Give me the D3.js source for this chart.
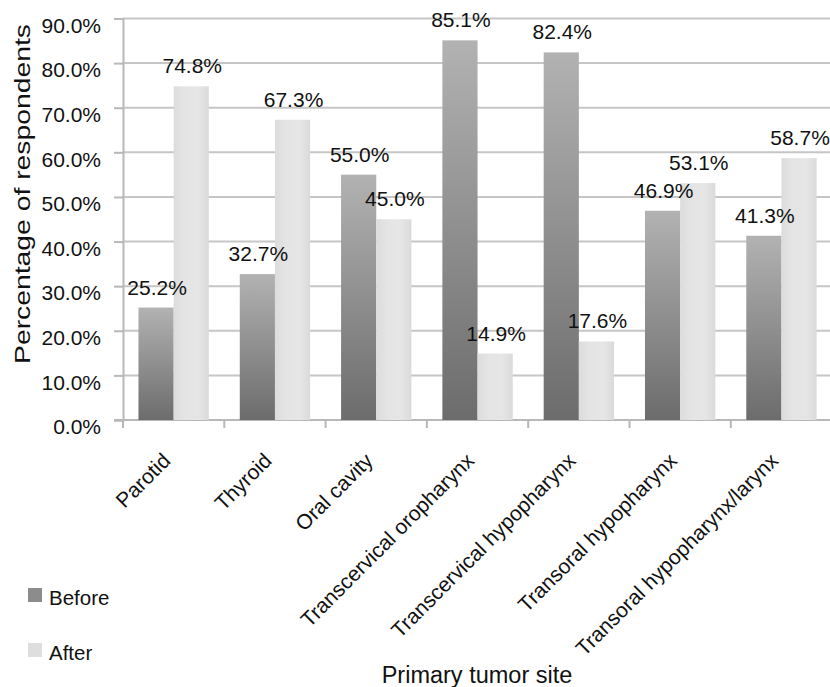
<!DOCTYPE html>
<html>
<head>
<meta charset="utf-8">
<script src="https://cdn.jsdelivr.net/npm/d3@7"></script>
<style>
  body { margin: 0; background: #fff; }
  text { font-family: Arial, "Liberation Sans", sans-serif; fill: #111; }
</style>
</head>
<body>
<script>
// chart data
var categories = ["Parotid", "Thyroid", "Oral cavity", "Transcervical oropharynx",
                  "Transcervical hypopharynx", "Transoral hypopharynx", "Transoral hypopharynx/larynx"];
var before = [25.2, 32.7, 55.0, 85.1, 82.4, 46.9, 41.3];
var after = [74.8, 67.3, 45.0, 14.9, 17.6, 53.1, 58.7];
var seriesNames = ["Before", "After"];
var yTicks = [0, 10, 20, 30, 40, 50, 60, 70, 80, 90];

var width = 830, height = 687;
var margin = {left: 123, top: 18.5, right: 0, bottom: 267};

var svg = d3.select("body").append("svg")
    .attr("width", width)
    .attr("height", height);

var defs = svg.append("defs");
var gBefore = defs.append("linearGradient").attr("id", "gBefore")
    .attr("x1", 0).attr("y1", 0).attr("x2", 0).attr("y2", 1);
gBefore.append("stop").attr("offset", "0%").attr("stop-color", "#b2b2b2");
gBefore.append("stop").attr("offset", "100%").attr("stop-color", "#6c6c6c");
var gAfter = defs.append("linearGradient").attr("id", "gAfter")
    .attr("x1", 0).attr("y1", 0).attr("x2", 1).attr("y2", 0);
gAfter.append("stop").attr("offset", "0%").attr("stop-color", "#dcdcdc");
gAfter.append("stop").attr("offset", "30%").attr("stop-color", "#e4e4e4");
gAfter.append("stop").attr("offset", "70%").attr("stop-color", "#e6e6e6");
gAfter.append("stop").attr("offset", "100%").attr("stop-color", "#dadada");

var x = d3.scaleBand()
    .domain(categories)
    .range([margin.left, margin.left + 7 * 101.3])
    .paddingInner(0)
    .paddingOuter(0);

var y = d3.scaleLinear()
    .domain([0, 90])
    .range([height - margin.bottom, margin.top]);

var inner = d3.scaleBand()
    .domain(seriesNames)
    .range([0, x.bandwidth()])
    .paddingInner(0)
    .paddingOuter(0.44);

// gridlines
svg.append("g").selectAll("line")
    .data(yTicks.slice(1))
    .enter().append("line")
    .attr("x1", margin.left)
    .attr("x2", width)
    .attr("y1", function(d){ return y(d); })
    .attr("y2", function(d){ return y(d); })
    .attr("stroke", "#c6c6c6")
    .attr("stroke-width", 2);

// y axis
var yAxis = d3.axisLeft(y)
    .tickValues(yTicks)
    .tickSize(9)
    .tickPadding(13)
    .tickFormat(function(d){ return d.toFixed(1) + "%"; });
var ya = svg.append("g")
    .attr("transform", "translate(" + margin.left + ",0)")
    .call(yAxis);
ya.select(".domain").attr("stroke", "#b8b8b8").attr("stroke-width", 2);
ya.selectAll(".tick line").attr("stroke", "#b8b8b8").attr("stroke-width", 2);
ya.selectAll(".tick text")
    .attr("y", 7)
    .style("font-size", "21px")
    .style("font-family", "Arial, 'Liberation Sans', sans-serif")
    .attr("fill", "#111");

// x axis baseline with ticks at category boundaries
var base = y(0);
svg.append("line")
    .attr("x1", margin.left - 9).attr("x2", width)
    .attr("y1", base).attr("y2", base)
    .attr("stroke", "#b8b8b8").attr("stroke-width", 2);
var bounds = categories.map(function(c){ return x(c); });
svg.append("g").selectAll("line")
    .data(bounds)
    .enter().append("line")
    .attr("x1", function(d){ return d; })
    .attr("x2", function(d){ return d; })
    .attr("y1", base)
    .attr("y2", base + 8)
    .attr("stroke", "#b8b8b8")
    .attr("stroke-width", 2);

// bars
var rows = categories.map(function(c, i){
    return {cat: c, vals: [{k: "Before", v: before[i]}, {k: "After", v: after[i]}]};
});
var groups = svg.append("g").selectAll("g")
    .data(rows)
    .enter().append("g")
    .attr("transform", function(d){ return "translate(" + x(d.cat) + ",0)"; });

groups.selectAll("rect")
    .data(function(d){ return d.vals; })
    .enter().append("rect")
    .attr("x", function(d){ return inner(d.k); })
    .attr("width", inner.bandwidth())
    .attr("y", function(d){ return y(d.v); })
    .attr("height", function(d){ return base - y(d.v); })
    .attr("fill", function(d){ return d.k == "Before" ? "url(#gBefore)" : "url(#gAfter)"; });

groups.selectAll("text.val")
    .data(function(d){ return d.vals; })
    .enter().append("text")
    .attr("class", "val")
    .attr("x", function(d){ return inner(d.k) + inner.bandwidth() / 2 + 1; })
    .attr("y", function(d){ return y(d.v) - 13; })
    .attr("text-anchor", "middle")
    .style("font-size", "21px")
    .text(function(d){ return d.v.toFixed(1) + "%"; });

// category labels
svg.append("g").selectAll("text")
    .data(categories)
    .enter().append("text")
    .attr("transform", function(d){
        return "translate(" + (x(d) + x.bandwidth() / 2 - 2) + "," + (base + 42) + ") rotate(-45)";
    })
    .attr("text-anchor", "end")
    .style("font-size", "21px")
    .text(function(d){ return d; });

// axis titles
svg.append("text")
    .attr("transform", "translate(30,194) rotate(-90)")
    .attr("text-anchor", "middle")
    .attr("textLength", 340)
    .attr("lengthAdjust", "spacingAndGlyphs")
    .style("font-size", "21.5px")
    .text("Percentage of respondents");

svg.append("text")
    .attr("x", 477)
    .attr("y", 683)
    .attr("text-anchor", "middle")
    .style("font-size", "23.5px")
    .text("Primary tumor site");

// legend
var legend = svg.append("g").selectAll("g")
    .data(seriesNames)
    .enter().append("g")
    .attr("transform", function(d, i){ return "translate(28," + (588 + i * 55) + ")"; });
legend.append("rect")
    .attr("width", 14).attr("height", 14)
    .attr("fill", function(d){ return d == "Before" ? "#8c8c8c" : "#dedede"; });
legend.append("text")
    .attr("x", 21).attr("y", 17)
    .style("font-size", "20.5px")
    .text(function(d){ return d; });
</script>
</body>
</html>
